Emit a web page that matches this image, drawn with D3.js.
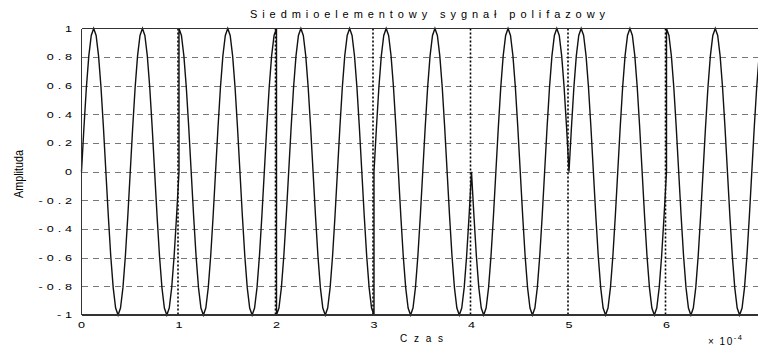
<!DOCTYPE html>
<html>
<head>
<meta charset="utf-8">
<script src="https://cdn.jsdelivr.net/npm/d3@7"></script>
<style>
  html, body { margin: 0; padding: 0; background: #fff; }
  svg { display: block; }
  text { font-family: "Liberation Sans", Arial, sans-serif; fill: #000; }
</style>
</head>
<body>
<svg id="chart" width="758" height="347"></svg>
<script>
// ---- data ----
const chartTitle = "Siedmioelementowy sygnał  polifazowy";
const xLabel = "Czas";
const yLabel = "Amplituda";
// phase (degrees) of the carrier in each of the 7 code elements
const elementPhasesDeg = [0, 90, 270, 0, 180, 0, 90];
// carrier cycles inside one element, and samples per element
const cyclesPerElement = [2];
const samplesPerElement = [40];
const elementBoundaries = [1, 2, 3, 4, 5, 6];
const xTickValues = [0, 1, 2, 3, 4, 5, 6];
const yTickValues = [-1, -0.8, -0.6, -0.4, -0.2, 0, 0.2, 0.4, 0.6, 0.8, 1];
const yGridValues = [-0.8, -0.6, -0.4, -0.2, 0, 0.2, 0.4, 0.6, 0.8];
const xDomain = [0, 7];
const yDomain = [-1, 1];

// ---- build the sampled polyphase signal from the phase code ----
const signal = [];
elementPhasesDeg.forEach((deg, k) => {
  const phi = deg * Math.PI / 180;
  const N = samplesPerElement[0];
  for (let j = 0; j <= N; j++) {
    const u = j / N;
    signal.push({ t: k + u, v: Math.sin(2 * Math.PI * cyclesPerElement[0] * u + phi) });
  }
});

// ---- layout ----
const svg = d3.select("#chart");
const x = d3.scaleLinear().domain(xDomain).range([81.5, 764]);
const y = d3.scaleLinear().domain(yDomain).range([315, 28.5]);
const fmt = v => String(Math.round(v * 10) / 10);

// horizontal dashed grid
svg.append("g").selectAll("line").data(yGridValues).join("line")
  .attr("x1", x(0)).attr("x2", 758)
  .attr("y1", d => Math.round(y(d)) + 0.5).attr("y2", d => Math.round(y(d)) + 0.5)
  .attr("stroke", "#777").attr("stroke-width", 1)
  .attr("stroke-dasharray", "6,5")
  .attr("shape-rendering", "crispEdges");

// vertical dotted element boundaries
svg.append("g").selectAll("line").data(elementBoundaries).join("line")
  .attr("x1", d => x(d) - 1).attr("x2", d => x(d) - 1)
  .attr("y1", y(1)).attr("y2", y(-1))
  .attr("stroke", "#000").attr("stroke-width", 1.6)
  .attr("stroke-dasharray", "2,2");

// signal
const line = d3.line().x(d => x(d.t)).y(d => y(d.v));
svg.append("path").datum(signal)
  .attr("d", line)
  .attr("fill", "none")
  .attr("stroke", "#111")
  .attr("stroke-width", 1.4)
  .attr("stroke-linejoin", "miter");

// frame (top, left, bottom)
const frame = svg.append("g").attr("stroke", "#333").attr("stroke-width", 1.2)
  .attr("shape-rendering", "crispEdges");
frame.append("line").attr("x1", x(0)).attr("x2", 758).attr("y1", y(1)).attr("y2", y(1));
frame.append("line").attr("x1", x(0)).attr("x2", 758).attr("y1", y(-1)).attr("y2", y(-1));
frame.append("line").attr("x1", x(0)).attr("x2", x(0)).attr("y1", y(1)).attr("y2", y(-1));

// y tick labels (wide, spaced font)
const yAxisG = svg.append("g");
yAxisG.selectAll("text").data(yTickValues).join("text")
  .attr("transform", d => `translate(76,${y(d)}) scale(1.4,1)`)
  .attr("text-anchor", "end")
  .attr("dominant-baseline", "central")
  .attr("font-size", 9)
  .attr("letter-spacing", "2.8px")
  .text(fmt);

// x tick labels
const xAxisG = svg.append("g");
xAxisG.selectAll("text").data(xTickValues).join("text")
  .attr("transform", d => `translate(${x(d)},325) scale(1.4,1)`)
  .attr("text-anchor", "middle")
  .attr("dominant-baseline", "central")
  .attr("font-size", 9)
  .text(fmt);

// title
svg.append("text")
  .attr("x", 250).attr("y", 18)
  .attr("font-size", 11)
  .attr("textLength", 355).attr("lengthAdjust", "spacing")
  .text(chartTitle);

// x label
svg.append("text")
  .attr("x", 400).attr("y", 342)
  .attr("font-size", 10)
  .attr("textLength", 43).attr("lengthAdjust", "spacing")
  .text(xLabel);

// y label
svg.append("text")
  .attr("transform", "translate(23,198) rotate(-90)")
  .attr("font-size", 12.5)
  .attr("textLength", 48).attr("lengthAdjust", "spacingAndGlyphs")
  .text(yLabel);

// exponent label (bottom-right corner)
const expo = svg.append("text")
  .attr("x", 708).attr("y", 345)
  .attr("font-size", 10)
  .attr("letter-spacing", "1.5px");
expo.append("tspan").text("× 10");
expo.append("tspan").attr("dy", -5).attr("font-size", 7.5).text("-4");
</script>
</body>
</html>
